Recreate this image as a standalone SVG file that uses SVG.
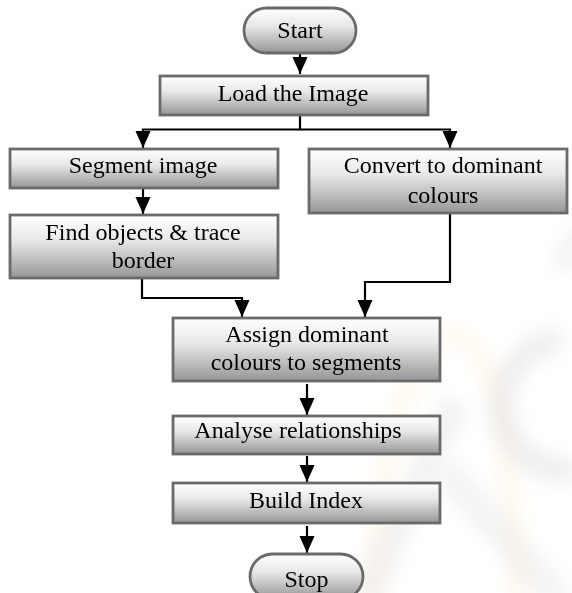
<svg xmlns="http://www.w3.org/2000/svg" width="572" height="593" viewBox="0 0 572 593">
<defs>
<linearGradient id="g" x1="0" y1="0" x2="0" y2="1">
<stop offset="0" stop-color="#ffffff"/>
<stop offset="0.4" stop-color="#e8e8e8"/>
<stop offset="1" stop-color="#969696"/>
</linearGradient>
<marker id="ah" viewBox="0 -8 18 16" refX="17" refY="0" markerWidth="18" markerHeight="16" markerUnits="userSpaceOnUse" orient="auto">
<path d="M0,-7.5 L17,0 L0,7.5 z" fill="#000"/>
</marker>
<filter id="blur" x="-20%" y="-20%" width="140%" height="140%"><feGaussianBlur stdDeviation="9"/></filter>
</defs>
<style>
.box{fill:url(#g);stroke:#6a6a6a;stroke-width:2.8}
.t{font-family:"Liberation Serif","Times New Roman",serif;font-size:24px;fill:#000;text-anchor:middle}
.c{fill:none;stroke:#000;stroke-width:2.2}
.a{marker-end:url(#ah)}
</style>
<rect width="572" height="593" fill="#fff"/>
<g id="watermark" filter="url(#blur)" fill="none">
<path d="M372,600 C380,420 420,335 455,335 C495,340 512,460 518,600" stroke="#fbd89a" stroke-width="12" opacity="0.25"/>
<path d="M560,340 A58,58 0 1 0 575,470" stroke="#d8d8d8" stroke-width="26" opacity="0.4"/>
<path d="M455,400 L365,600" stroke="#dcdcdc" stroke-width="30" opacity="0.35"/>
<path d="M445,470 L560,600" stroke="#dcdcdc" stroke-width="30" opacity="0.3"/>
<path d="M560,270 L580,230" stroke="#dcdcdc" stroke-width="24" opacity="0.3"/>
</g>
<g id="connectors">
<path class="c a" d="M300,50 V74"/>
<path class="c" d="M300,115 V129.5"/>
<path class="c a" d="M300,129.5 H143 V148"/>
<path class="c a" d="M300,129.5 H450 V148"/>
<path class="c a" d="M143,188 V214"/>
<path class="c a" d="M142,278 V298 H242 V317"/>
<path class="c a" d="M450,213 V282 H365 V317"/>
<path class="c a" d="M307,384 V415"/>
<path class="c a" d="M307,456 V482"/>
<path class="c a" d="M307,526 V553"/>
</g>
<g id="start"><rect class="box" x="244" y="8" width="112" height="45" rx="22.5"/><text class="t" x="300" y="38">Start</text></g>
<g id="load"><rect class="box" x="160" y="76" width="268" height="39"/><text class="t" x="293" y="101">Load the Image</text></g>
<g id="segment"><rect class="box" x="10" y="149" width="268" height="39"/><text class="t" x="143" y="173">Segment image</text></g>
<g id="convert"><rect class="box" x="309" y="149" width="258" height="64"/><text class="t" x="443" y="173">Convert to dominant</text><text class="t" x="443" y="203">colours</text></g>
<g id="find"><rect class="box" x="10" y="215" width="268" height="63"/><text class="t" x="143" y="240">Find objects &amp; trace</text><text class="t" x="143" y="268">border</text></g>
<g id="assign"><rect class="box" x="173" y="318" width="267" height="63"/><text class="t" x="307" y="342">Assign dominant</text><text class="t" x="306" y="370">colours to segments</text></g>
<g id="analyse"><rect class="box" x="173" y="416" width="267" height="38"/><text class="t" x="298" y="438">Analyse relationships</text></g>
<g id="build"><rect class="box" x="173" y="483" width="267" height="40"/><text class="t" x="306" y="508">Build Index</text></g>
<g id="stop"><rect class="box" x="250" y="554" width="113" height="45" rx="22.5"/><text class="t" x="306.5" y="587">Stop</text></g>
</svg>
